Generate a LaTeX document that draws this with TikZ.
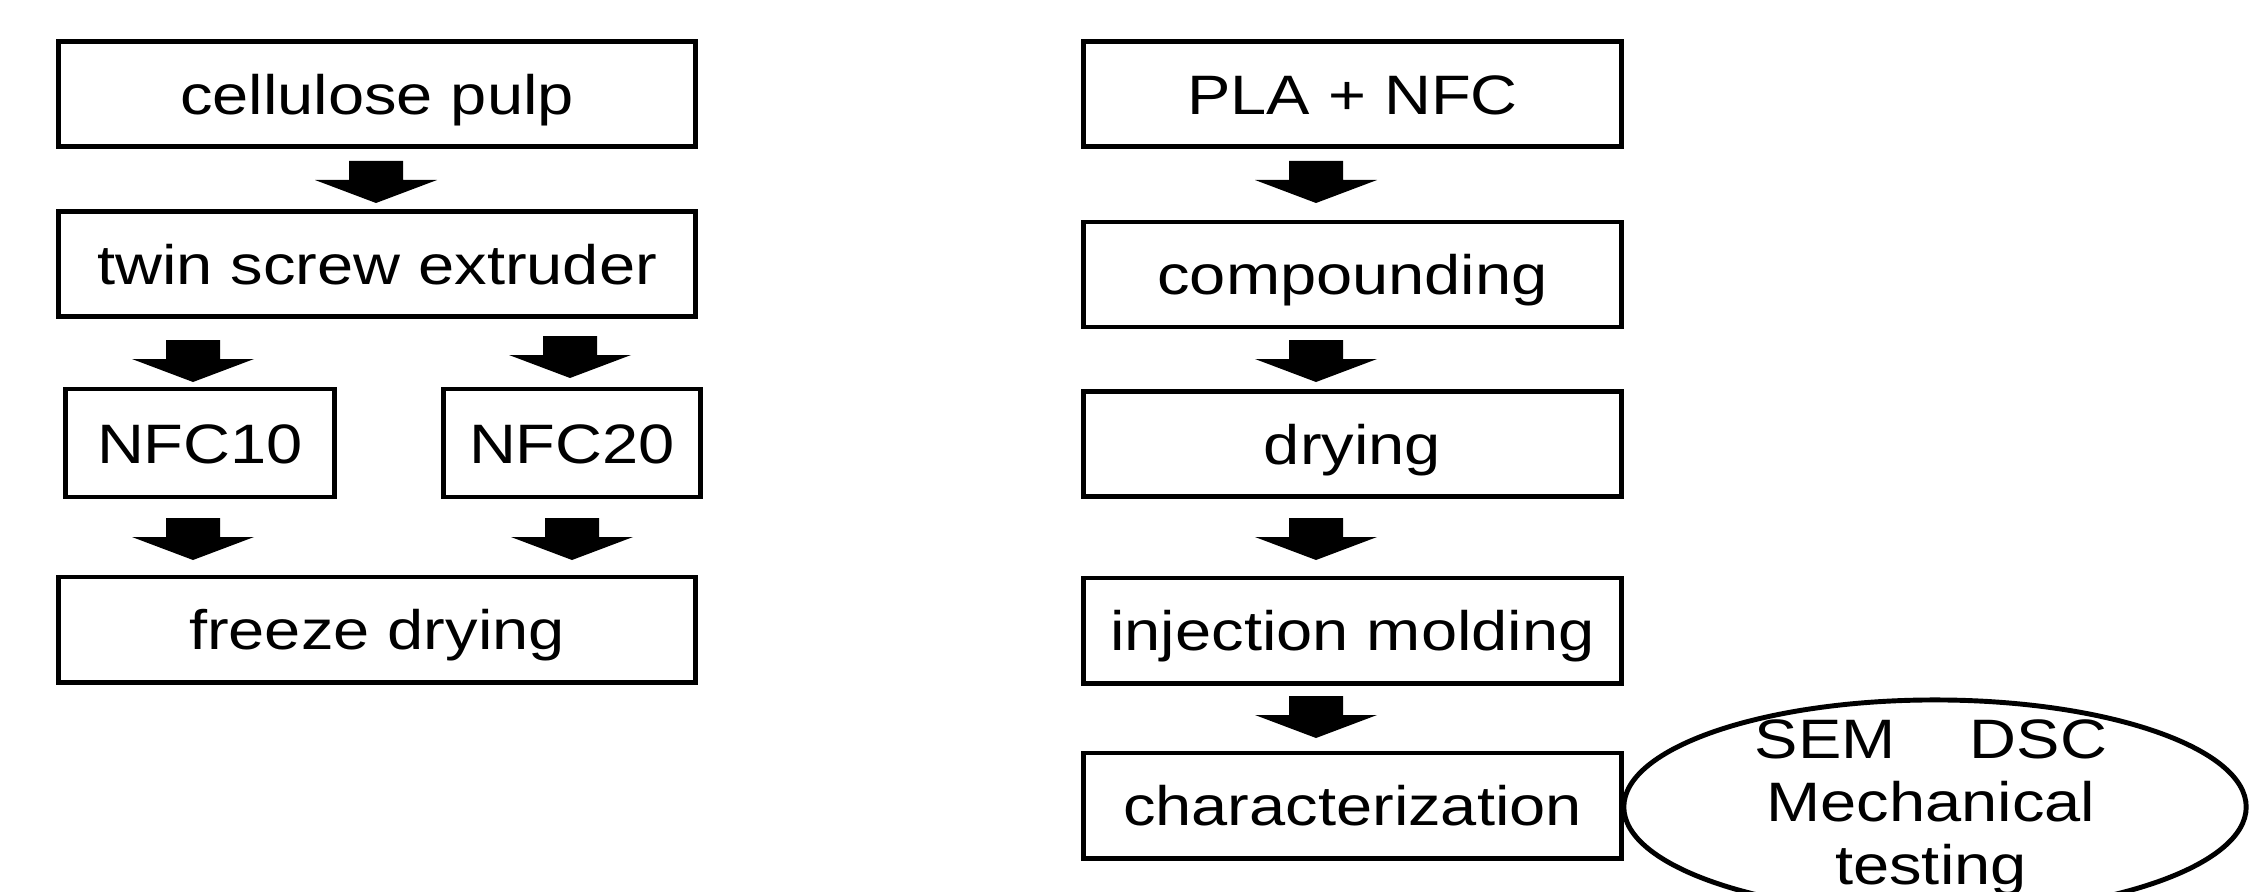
\documentclass[tikz,border=0pt]{standalone}
\usepackage{fontspec}
\setmainfont[FakeStretch=1.17]{Liberation Sans}
\usetikzlibrary{shapes.geometric}
\begin{document}
\begin{tikzpicture}[x=0.01cm,y=-0.01cm,
  box/.style={draw, line width=1.4pt, inner sep=0pt, minimum height=1.05cm,
    text height=0.4cm, text depth=0cm,
    font=\fontsize{15.8}{18}\selectfont},
  wbox/.style={box, minimum width=6.36cm},
  rbox/.style={box, minimum width=5.37cm},
  barrow/.pic={\fill[black] (-27,0) -- (27,0) -- (27,19) -- (61,19) -- (0,42) -- (-61,19) -- (-27,19) -- cycle;}
]
\useasboundingbox (0,0) rectangle (2252,891);
\begin{scope}
\clip (0,0) rectangle (2252,891);
% left column
\node[wbox] (cell) at (377,94) {cellulose pulp};
\node[wbox] (twin) at (377,264) {twin screw extruder};
\node[box, minimum width=2.69cm, minimum height=1.08cm] (nfc10) at (200,443) {NFC10};
\node[box, minimum width=2.57cm, minimum height=1.08cm] (nfc20) at (572,443) {NFC20};
\node[wbox] (freeze) at (377,629.5) {freeze drying};
% right column
\node[rbox] (pla) at (1352.5,94) {PLA + NFC};
\node[rbox] (comp) at (1352.5,274.5) {compounding};
\node[rbox] (dry) at (1352.5,444) {drying};
\node[rbox] (inj) at (1352.5,630.5) {injection molding};
\node[rbox] (char) at (1352.5,805.5) {characterization};
\node[draw, ellipse, line width=1.4pt, minimum width=6.22cm, minimum height=2.14cm, inner sep=0pt] (tests) at (1935,807) {};
\node[align=center, inner sep=0pt, font=\fontsize{15.8}{18}\selectfont] (teststxt) at (1931,808)
  {SEM\hspace{0.74cm}DSC\\Mechanical\\testing};
% block arrows
\coordinate (a1) at (376,161);
\coordinate (a2) at (193,340);
\coordinate (a3) at (570,336);
\coordinate (a4) at (193,518);
\coordinate (a5) at (572,518);
\coordinate (r1) at (1316,161);
\coordinate (r2) at (1316,340);
\coordinate (r3) at (1316,518);
\coordinate (r4) at (1316,696);
\foreach \p in {a1,a2,a3,a4,a5,r1,r2,r3,r4} { \pic at (\p) {barrow}; }
\end{scope}
\end{tikzpicture}
\end{document}
